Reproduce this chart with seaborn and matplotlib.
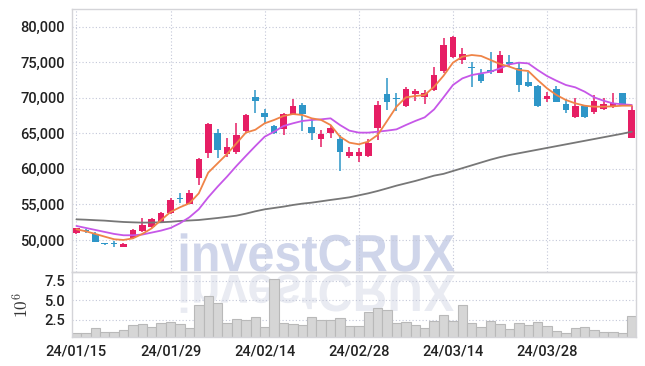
import numpy as np
import pandas as pd
import matplotlib
matplotlib.use("Agg")
import matplotlib.pyplot as plt
import seaborn as sns
from matplotlib.textpath import TextPath
from matplotlib.patches import PathPatch
from matplotlib.font_manager import FontProperties
from matplotlib.transforms import Affine2D

# trading days (KRX calendar, holidays removed)
dates = pd.bdate_range("2024-01-15", "2024-04-11", freq="C",
                       holidays=["2024-02-09", "2024-02-12", "2024-03-01", "2024-04-10"])

opens = [51030, 51300, 50820, 49530, 49560, 49080, 50330, 51310, 51780, 52490,
         53840, 55900, 55100, 58670, 62280, 65000, 62050, 62420, 65380, 70070,
         67820, 66030, 65570, 67720, 68990, 65850, 64250, 65000, 64160, 61810,
         61810, 61860, 65700, 70490, 70000, 68900, 70490, 70070, 71100, 73770,
         75780, 75320, 74340, 73350, 73910, 73540, 75080, 74140, 72270, 71660,
         69830, 71240, 69130, 67260, 68850, 68050, 68380, 68760, 70720, 64390]
highs = [51750, 51550, 51170, 49600, 49860, 49620, 51500, 53050, 53050, 53950,
         55950, 56650, 57030, 61570, 66410, 65610, 64300, 66410, 67720, 71100,
         68420, 66170, 67820, 69790, 69220, 67110, 65470, 66170, 64770, 63130,
         62890, 64160, 69550, 72840, 70630, 71470, 71240, 71100, 74380, 78360,
         78690, 76960, 74990, 74000, 76390, 76630, 76020, 75080, 73680, 71800,
         70860, 71660, 69790, 69930, 68990, 70390, 69930, 70630, 70720, 68850]
lows = [50900, 51030, 49700, 49350, 49060, 49000, 50200, 51130, 51640, 52400,
        53700, 55150, 55000, 57740, 61480, 61480, 61720, 62090, 65230, 67820,
        66500, 64900, 64770, 67580, 65380, 64070, 63030, 64390, 59710, 61480,
        60920, 61720, 64070, 68290, 68190, 68760, 69600, 69080, 71000, 73440,
        75550, 74710, 71470, 72130, 73300, 73440, 74380, 70860, 71560, 68660,
        69460, 69360, 67910, 67110, 67110, 67720, 68290, 68610, 68850, 64390]
closes = [51650, 51220, 49760, 49420, 49480, 49420, 51410, 52110, 52910, 53840,
          55620, 55750, 56650, 61390, 66270, 62660, 63040, 64770, 67580, 69600,
          67260, 65000, 67680, 68850, 67720, 65000, 64910, 65700, 62420, 62330,
          62330, 63600, 68990, 69460, 69880, 71240, 71000, 70630, 73210, 77430,
          78590, 76160, 74240, 72410, 73630, 76020, 74760, 71800, 71700, 68850,
          70250, 69460, 68290, 68850, 67260, 69600, 69130, 69320, 68990, 68290]
# volume in millions of shares
volume = [0.84, 0.84, 1.44, 0.97, 0.97, 1.22, 1.82, 1.94, 1.56, 2.07,
          2.20, 1.98, 1.44, 4.36, 5.55, 4.62, 2.07, 2.58, 2.45, 2.84,
          1.56, 7.80, 2.07, 1.94, 1.82, 2.84, 2.45, 2.49, 2.71, 1.69,
          1.69, 3.47, 4.06, 3.73, 2.11, 2.24, 1.82, 1.44, 2.33, 3.09,
          2.33, 4.36, 2.11, 1.56, 2.33, 1.94, 1.31, 2.07, 1.82, 2.20,
          1.69, 1.09, 0.84, 1.44, 1.56, 1.18, 0.97, 0.97, 0.84, 2.96]
ma_short = [51500, 51220, 50850, 50470, 50100, 50000, 50230, 50850, 51640, 52810,
            53940, 54600, 55160, 56560, 59470, 60780, 62090, 63590, 65100, 65500,
            66410, 66880, 67440, 67720, 67580, 67110, 66880, 66170, 64530, 63690,
            63460, 63830, 64770, 66740, 68750, 70060, 70250, 70390, 71560, 73100,
            74940, 75780, 76020, 75880, 75320, 74750, 74380, 73910, 73770, 72500,
            71330, 70390, 69690, 69220, 68890, 68750, 68750, 68800, 68890, 68890]
ma_mid = [51970, 51690, 51410, 51130, 50850, 50660, 50660, 50760, 51040, 51320,
          51690, 52350, 53190, 54320, 56000, 57500, 58910, 60410, 61820, 63200,
          64530, 65230, 66030, 66410, 66740, 66880, 66970, 67110, 66170, 65380,
          65100, 65100, 65230, 65380, 65560, 66170, 66740, 67250, 68370, 70060,
          71800, 72730, 73200, 73440, 73670, 74140, 74700, 74940, 74840, 73910,
          73060, 72400, 71800, 71470, 70860, 70060, 69590, 69220, 69080, 68990]
ma_long = [52900, 52850, 52780, 52720, 52620, 52530, 52480, 52440, 52450, 52490,
           52560, 52670, 52740, 52810, 52950, 53090, 53250, 53420, 53700, 54030,
           54310, 54500, 54690, 54920, 55110, 55250, 55440, 55630, 55810, 56000,
           56280, 56560, 56890, 57260, 57640, 57970, 58300, 58670, 59050, 59300,
           59700, 60100, 60500, 60900, 61300, 61650, 61950, 62200, 62450, 62700,
           62950, 63200, 63450, 63700, 63950, 64200, 64450, 64700, 64950, 65230]

tick_idx = [0, 10, 20, 30, 40, 50]

UP = "#e61e64"
DOWN = "#2e96c8"

sns.set_theme(style="white")
plt.rcParams["font.family"] = ["Roboto", "DejaVu Sans"]
plt.rcParams["font.weight"] = "medium"

df = pd.DataFrame({"x": np.arange(len(dates)), "open": opens, "high": highs,
                   "low": lows, "close": closes, "vol": volume,
                   "ma_s": ma_short, "ma_m": ma_mid, "ma_l": ma_long})
df["up"] = df["close"] >= df["open"]
colors = np.where(df["up"], UP, DOWN)

fig = plt.figure(figsize=(6.45, 3.66), dpi=100)
fig.patch.set_facecolor("white")
ax = fig.add_axes([0.1112, 0.256, 0.8756, 0.7186])
axv = fig.add_axes([0.1112, 0.0784, 0.8756, 0.1776], sharex=ax)

# watermark + its mirror image
fp = FontProperties(family="Liberation Sans", weight="bold")
tp = TextPath((0, 0), "investCRUX", size=50, prop=fp)
ext = tp.get_extents()
sx = 274 / ext.width
sy = 38.4 / ext.height
base = Affine2D().translate(-ext.x0, -ext.y0)
t_main = base + Affine2D().scale(sx, sy).translate(180.7, 366 - 271.7).scale(0.01) + fig.dpi_scale_trans
t_refl = base + Affine2D().scale(sx, -sy).translate(180.7, 366 - 274.5).scale(0.01) + fig.dpi_scale_trans
fig.add_artist(PathPatch(tp, transform=t_main, facecolor="#cfd5ea", edgecolor="none", zorder=-1))
fig.add_artist(PathPatch(tp, transform=t_refl, facecolor="#e9ebf2", edgecolor="none", zorder=-1))

for a in (ax, axv):
    a.set_facecolor("none")
    a.grid(True, ls=(0, (1, 2)), color="#c3c7d8", lw=0.8)
    a.set_axisbelow(True)
    for s in a.spines.values():
        s.set_color("#d4d4d8")
        s.set_linewidth(1.0)
    a.tick_params(length=0, labelsize=10.5, colors="#222222", pad=5)

# candles
ax.vlines(df["x"], df["low"], df["high"], color=colors, lw=1.1, zorder=3)
body = np.maximum((df["close"] - df["open"]).abs(), 120)
bottom = np.minimum(df["open"], df["close"])
ax.bar(df["x"], body, bottom=bottom, width=0.7, color=colors, linewidth=0, zorder=4)

sns.lineplot(data=df, x="x", y="ma_l", ax=ax, color="#777777", lw=1.3, zorder=5)
sns.lineplot(data=df, x="x", y="ma_m", ax=ax, color="#c657e8", lw=1.3, zorder=5)
sns.lineplot(data=df, x="x", y="ma_s", ax=ax, color="#ef8447", lw=1.3, zorder=6)

ax.set_ylim(45450, 82450)
ax.set_yticks(range(50000, 80001, 5000))
ax.set_yticklabels([f"{v:,}" for v in range(50000, 80001, 5000)])
ax.set_xlabel("")
ax.set_ylabel("")
ax.tick_params(labelbottom=False)

# volume
sns.barplot(data=df, x="x", y="vol", ax=axv, color="#d6d6d6", edgecolor="#b9b9b9",
            linewidth=0.8, width=1.0, saturation=1, zorder=2)
axv.set_ylim(0.23, 8.6)
axv.set_yticks([2.5, 5.0, 7.5])
axv.set_yticklabels(["2.5", "5.0", "7.5"])
axv.set_ylabel(r"$10^6$", math_fontfamily="cm", fontsize=12.5, color="#333333", labelpad=9)
axv.set_xlabel("")

axv.set_xlim(-0.5, len(dates) - 0.5)
axv.set_xticks(tick_idx)
axv.set_xticklabels([dates[i].strftime("%y/%m/%d") for i in tick_idx])

fig.savefig("out.png", dpi=100)
